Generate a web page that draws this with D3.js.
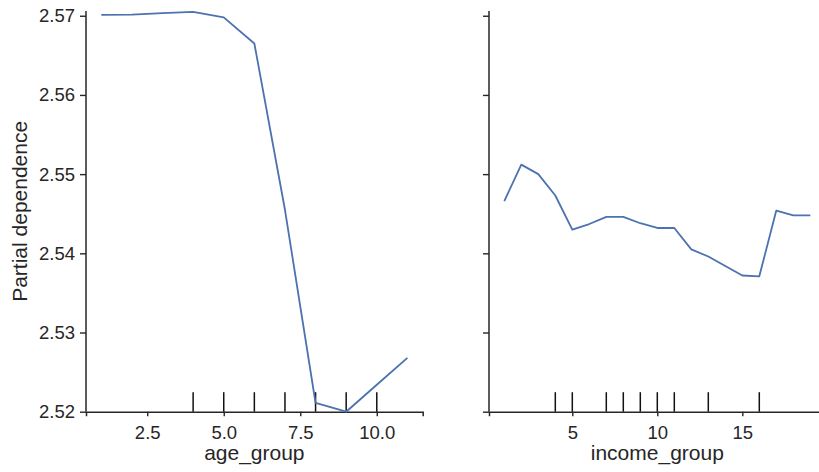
<!DOCTYPE html>
<html>
<head>
<meta charset="utf-8">
<script src="https://cdn.jsdelivr.net/npm/d3@7"></script>
<style>
  html, body { margin: 0; padding: 0; background: #fff; }
  svg { display: block; }
  text { font-family: "Liberation Sans", Arial, sans-serif; fill: #262626; }
</style>
</head>
<body>
<svg id="chart" width="819" height="472"></svg>
<script>
// Partial dependence values for each feature
const ageGroup = [1, 2, 3, 4, 5, 6, 7, 8, 9, 10, 11];
const agePd = [2.5701, 2.57013, 2.57034, 2.5705, 2.5698, 2.5665, 2.5455, 2.5211, 2.5200, 2.5234, 2.5268];
const ageDeciles = [4, 5, 6, 7, 8, 9, 10];

const incomeGroup = [1, 2, 3, 4, 5, 6, 7, 8, 9, 10, 11, 12, 13, 14, 15, 16, 17, 18, 19];
const incomePd = [2.5466, 2.5512, 2.5500, 2.5473, 2.5430, 2.5437, 2.5446, 2.5446, 2.5438, 2.5432,
                  2.5432, 2.5405, 2.5396, 2.5384, 2.5372, 2.5371, 2.5454, 2.5448, 2.5448];
const incomeDeciles = [4, 5, 7, 8, 9, 10, 11, 13, 16];

const yTicks = [2.52, 2.53, 2.54, 2.55, 2.56, 2.57];
const ageTicks = [2.5, 5.0, 7.5, 10.0];
const incomeTicks = [5, 10, 15];

const svg = d3.select("#chart");
const plotTop = 11, plotBottom = 411.7;
const axisColor = "#262626";
const lineColor = "#4c72b0";

// shared y scale
const y = d3.scaleLinear().domain([2.5200, 2.5706]).range([plotBottom, plotTop]);

const panels = [
  { xs: ageGroup, ys: agePd, deciles: ageDeciles, ticks: ageTicks, fmt: d3.format(".1f"),
    domain: [0.5, 11.5], range: [86, 422.7], label: "age_group", yLabels: true },
  { xs: incomeGroup, ys: incomePd, deciles: incomeDeciles, ticks: incomeTicks, fmt: d3.format("d"),
    domain: [0.1, 19.9], range: [489, 825.6], label: "income_group", yLabels: false }
];

panels.forEach(p => {
  const x = d3.scaleLinear().domain(p.domain).range(p.range);
  const g = svg.append("g");

  // y axis
  const yAxis = d3.axisLeft(y).tickValues(yTicks).tickSizeOuter(0).tickSize(6).tickPadding(5)
    .tickFormat(p.yLabels ? d3.format(".2f") : () => "");
  const ya = g.append("g").attr("transform", `translate(${p.range[0]},0)`).call(yAxis);

  // x axis
  const xAxis = d3.axisBottom(x).tickValues(p.ticks).tickSizeOuter(0).tickSize(4.5).tickPadding(5)
    .tickFormat(p.fmt);
  const xa = g.append("g").attr("transform", `translate(0,${plotBottom})`).call(xAxis);

  [ya, xa].forEach(a => {
    a.select(".domain").attr("stroke", axisColor).attr("stroke-width", 1.5);
    a.selectAll(".tick line").attr("stroke", axisColor).attr("stroke-width", 1.4);
    a.selectAll(".tick text").attr("fill", "#262626").style("font-size", "18.5px")
      .style("font-family", '"Liberation Sans", Arial, sans-serif');
  });
  ya.select(".domain").attr("d", `M0,${plotBottom}V${plotTop}`);
  xa.selectAll(".tick text").attr("dy", "0.95em");

  // deciles rug
  g.append("g").selectAll("line").data(p.deciles).join("line")
    .attr("x1", d => x(d)).attr("x2", d => x(d))
    .attr("y1", plotBottom).attr("y2", plotBottom - 19.5)
    .attr("stroke", "#111").attr("stroke-width", 1.5);

  // partial dependence line
  const line = d3.line().x((d, i) => x(p.xs[i])).y(d => y(d));
  g.append("path").datum(p.ys)
    .attr("d", line).attr("fill", "none")
    .attr("stroke", lineColor).attr("stroke-width", 1.8)
    .attr("stroke-linejoin", "round");

  // x label
  g.append("text")
    .attr("x", (p.range[0] + p.range[1]) / 2).attr("y", 460)
    .attr("text-anchor", "middle").style("font-size", "21px").text(p.label);
});

// y label
svg.append("text")
  .attr("transform", `translate(26.5,${(plotTop + plotBottom) / 2}) rotate(-90)`)
  .attr("text-anchor", "middle").style("font-size", "21px").text("Partial dependence");
</script>
</body>
</html>
